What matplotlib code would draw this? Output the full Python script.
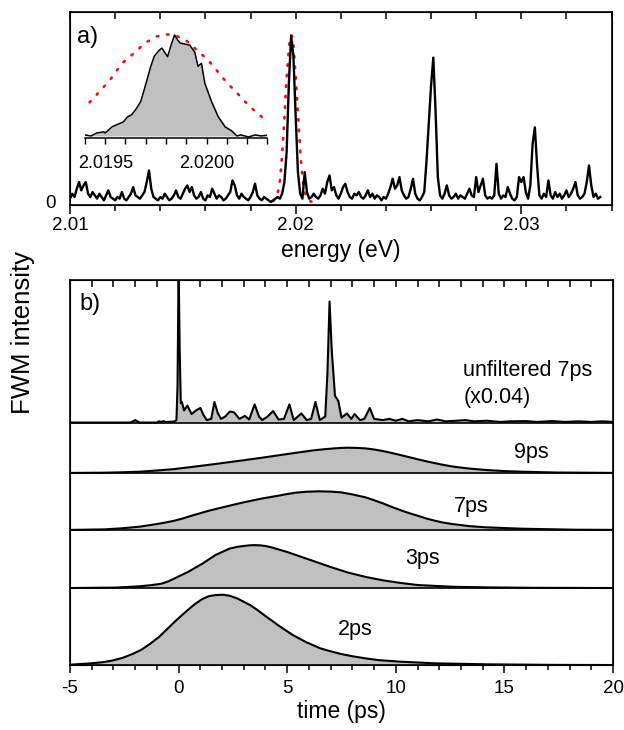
import numpy as np
import matplotlib
matplotlib.use('Agg')
import matplotlib.pyplot as plt
from matplotlib.ticker import MultipleLocator, FixedLocator, FormatStrFormatter

plt.rcParams['font.family'] = ['Liberation Sans', 'DejaVu Sans']
plt.rcParams['axes.unicode_minus'] = False

# ---- panel a: spectrum (energy grid every 0.1 meV, starting at 2.0100 eV)
e_start = 2.0100
e_step = 0.0001
spectrum = [
    0.02, 0.05, 0.03, 0.08, 0.12, 0.07, 0.10, 0.12, 0.05, 0.03,  # 2.010
    0.06, 0.04, 0.02, 0.05, 0.03, 0.01, 0.04, 0.07, 0.03, 0.02,  # 2.011
    0.01, 0.03, 0.02, 0.06, 0.02, 0.01, 0.03, 0.05, 0.09, 0.04,  # 2.012
    0.03, 0.02, 0.04, 0.06, 0.12, 0.19, 0.08, 0.03, 0.02, 0.01,  # 2.013
    0.03, 0.02, 0.05, 0.03, 0.01, 0.02, 0.04, 0.07, 0.03, 0.02,  # 2.014
    0.05, 0.08, 0.10, 0.06, 0.09, 0.04, 0.02, 0.03, 0.06, 0.02,  # 2.015
    0.01, 0.04, 0.03, 0.08, 0.05, 0.02, 0.04, 0.03, 0.01, 0.02,  # 2.016
    0.04, 0.06, 0.13, 0.10, 0.04, 0.02, 0.05, 0.03, 0.02, 0.01,  # 2.017
    0.03, 0.06, 0.11, 0.04, 0.02, 0.01, 0.03, 0.02, 0.01, 0.00,  # 2.018
    0.01, 0.02, 0.03, 0.02, 0.05, 0.12, 0.30, 0.72, 1.00, 0.88,  # 2.019
    0.52, 0.18, 0.05, 0.02, 0.18, 0.06, 0.02, 0.03, 0.05, 0.03,  # 2.020
    0.02, 0.04, 0.08, 0.05, 0.12, 0.16, 0.07, 0.09, 0.04, 0.02,  # 2.021
    0.05, 0.09, 0.11, 0.06, 0.03, 0.02, 0.05, 0.04, 0.06, 0.03,  # 2.022
    0.02, 0.04, 0.07, 0.03, 0.05, 0.02, 0.04, 0.03, 0.01, 0.03,  # 2.023
    0.02, 0.05, 0.09, 0.14, 0.08, 0.10, 0.15, 0.07, 0.04, 0.02,  # 2.024
    0.03, 0.08, 0.14, 0.05, 0.02, 0.01, 0.03, 0.06, 0.25, 0.48,  # 2.025
    0.70, 0.87, 0.55, 0.15, 0.04, 0.02, 0.05, 0.10, 0.04, 0.02,  # 2.026
    0.03, 0.05, 0.02, 0.04, 0.03, 0.02, 0.05, 0.08, 0.04, 0.03,  # 2.027
    0.15, 0.06, 0.10, 0.14, 0.04, 0.02, 0.03, 0.02, 0.04, 0.23,  # 2.028
    0.05, 0.02, 0.04, 0.03, 0.09, 0.05, 0.02, 0.01, 0.03, 0.15,  # 2.029
    0.12, 0.15, 0.06, 0.02, 0.10, 0.35, 0.45, 0.22, 0.04, 0.02,  # 2.030
    0.05, 0.03, 0.13, 0.04, 0.02, 0.06, 0.03, 0.05, 0.02, 0.04,  # 2.031
    0.07, 0.03, 0.05, 0.08, 0.12, 0.04, 0.02, 0.03, 0.05, 0.12,  # 2.032
    0.22, 0.10, 0.03, 0.05, 0.02, 0.03,                          # 2.033
]
energy = np.round(e_start + e_step * np.arange(len(spectrum)), 5)

# laser spectrum (red dots)
laser_e = [2.0190, 2.0191, 2.0192, 2.0193, 2.0194, 2.019442, 2.019478, 2.019517,
           2.01955, 2.019583, 2.019622, 2.019667, 2.019708, 2.01975, 2.019792,
           2.019838, 2.019883, 2.019922, 2.019958, 2.0200, 2.020042, 2.020075,
           2.020112, 2.020155, 2.020195, 2.020233, 2.020275, 2.020312, 2.0204,
           2.0205, 2.0206, 2.0207]
laser_i = [0.005, 0.018, 0.05, 0.125, 0.284, 0.373, 0.455, 0.538, 0.627, 0.72,
           0.785, 0.868, 0.934, 0.983, 1.007, 1.0, 0.967, 0.911, 0.835, 0.769,
           0.67, 0.587, 0.505, 0.416, 0.33, 0.257, 0.185, 0.132, 0.062, 0.022,
           0.007, 0.002]

# inset: zoom on the 2.0198 eV line
inset_e = [2.01940, 2.01943, 2.019458, 2.019492, 2.01950, 2.019533, 2.019567,
           2.01959, 2.019608, 2.01963, 2.01965, 2.019675, 2.019692, 2.019725,
           2.019742, 2.019767, 2.01978, 2.019808, 2.019825, 2.019842, 2.019858,
           2.01987, 2.019917, 2.019942, 2.019958, 2.019975, 2.019992, 2.020025,
           2.020058, 2.020092, 2.020125, 2.02015, 2.02017, 2.020208, 2.02024,
           2.02027, 2.020312]
inset_i = [0.01, 0.00, 0.03, 0.04, 0.03, 0.09, 0.12, 0.14, 0.185, 0.21, 0.26,
           0.34, 0.455, 0.69, 0.79, 0.85, 0.87, 0.785, 0.90, 1.0, 0.95, 0.92,
           0.90, 0.83, 0.69, 0.72, 0.52, 0.34, 0.19, 0.09, 0.05, 0.0, 0.01,
           -0.01, 0.01, 0.0, 0.01]

# ---- panel b: FWM transients
t_unf = [-5.0, -2.2, -2.0, -1.8, -1.0, -0.9, -0.8, -0.7, -0.6, -0.2, -0.1, -0.05,
         0.0, 0.05, 0.1, 0.15, 0.25, 0.4, 0.6, 0.8, 1.0, 1.15, 1.3, 1.5, 1.65,
         1.8, 1.95, 2.15, 2.35, 2.55, 2.8, 3.05, 3.25, 3.5, 3.7, 3.85, 4.1, 4.35,
         4.6, 4.85, 5.1, 5.3, 5.65, 5.9, 6.1, 6.3, 6.5, 6.75, 6.85, 6.95, 7.05,
         7.2, 7.35, 7.5, 7.75, 7.95, 8.1, 8.35, 8.55, 8.8, 9.0, 9.4, 9.7, 10.0,
         10.3, 10.6, 11.0, 11.5, 11.9, 12.3, 12.8, 13.2, 13.6, 14.2, 14.8, 15.3,
         16.0, 16.5, 17.2, 17.8, 18.4, 19.0, 19.5, 20.0]
i_unf = [0.0, 0.0, 0.02, 0.0, 0.0, 0.01, 0.005, 0.012, 0.004, 0.008, 0.02, 0.3,
         1.3, 0.6, 0.16, 0.17, 0.10, 0.14, 0.07, 0.10, 0.12, 0.06, 0.02, 0.03,
         0.17, 0.08, 0.03, 0.05, 0.09, 0.085, 0.03, 0.055, 0.025, 0.15, 0.05,
         0.02, 0.05, 0.095, 0.025, 0.03, 0.15, 0.02, 0.075, 0.02, 0.03, 0.17,
         0.02, 0.05, 0.4, 1.0, 0.6, 0.22, 0.18, 0.04, 0.075, 0.03, 0.07, 0.02,
         0.03, 0.12, 0.03, 0.02, 0.03, 0.015, 0.03, 0.01, 0.02, 0.01, 0.025,
         0.01, 0.015, 0.02, 0.01, 0.015, 0.005, 0.01, 0.012, 0.005, 0.012,
         0.005, 0.01, 0.005, 0.01, 0.005]

t_9 = [-5, -3.4, -2.6, -1.8, -1.0, -0.2, 0.6, 1.4, 2.2, 3.0, 3.8, 4.6, 5.4, 6.2,
       6.7, 7.16, 7.5, 7.8, 8.2, 8.6, 9.0, 9.4, 9.8, 10.2, 10.6, 11.0, 11.4, 11.8,
       12.2, 12.6, 13.0, 13.4, 14.2, 15.0, 15.8, 17.4, 19.8, 20]
i_9 = [0.004, 0.013, 0.03, 0.052, 0.10, 0.156, 0.24, 0.325, 0.415, 0.506, 0.60,
       0.70, 0.80, 0.896, 0.94, 0.974, 0.993, 1.0, 0.993, 0.974, 0.93, 0.87,
       0.795, 0.714, 0.63, 0.545, 0.465, 0.39, 0.32, 0.26, 0.215, 0.175, 0.117,
       0.078, 0.052, 0.02, 0.006, 0.006]

t_7 = [-5, -3.4, -2.6, -1.8, -1.0, -0.6, -0.2, 0.2, 0.6, 1.0, 1.4, 2.2, 3.0, 3.8,
       4.6, 5.0, 5.4, 5.9, 6.44, 7.0, 7.48, 8.0, 8.6, 9.0, 9.4, 9.8, 10.2, 10.6,
       11.0, 11.4, 11.8, 12.2, 12.6, 13.4, 14.2, 15.8, 18.2, 20]
i_7 = [0.003, 0.017, 0.045, 0.086, 0.155, 0.195, 0.24, 0.30, 0.37, 0.435, 0.50,
       0.61, 0.716, 0.81, 0.888, 0.93, 0.966, 0.99, 1.0, 0.993, 0.974, 0.92,
       0.845, 0.77, 0.69, 0.60, 0.517, 0.44, 0.37, 0.30, 0.24, 0.19, 0.155, 0.10,
       0.069, 0.034, 0.009, 0.004]

t_3 = [-5, -2.9, -1.8, -1.3, -0.8, -0.5, -0.2, 0.45, 1.1, 1.7, 2.35, 2.7, 3.0,
       3.25, 3.5, 3.75, 4.0, 4.3, 4.6, 5.0, 5.4, 6.2, 7.0, 7.8, 8.6, 9.4, 10.2,
       11.0, 12.6, 14.2, 16.4, 20]
i_3 = [0.0, 0.01, 0.04, 0.065, 0.10, 0.15, 0.22, 0.38, 0.57, 0.77, 0.92, 0.96,
       0.98, 0.995, 1.0, 0.995, 0.98, 0.945, 0.90, 0.84, 0.77, 0.63, 0.49, 0.36,
       0.26, 0.18, 0.12, 0.07, 0.03, 0.015, 0.005, 0.0]

t_2 = [-5, -4.04, -3.5, -3.08, -2.6, -2.12, -1.7, -1.32, -0.9, -0.52, -0.2, 0.12,
       0.45, 0.76, 1.1, 1.4, 1.7, 2.04, 2.35, 2.68, 3.0, 3.32, 3.64, 3.96, 4.3,
       4.6, 5.24, 5.88, 6.52, 7.0, 7.48, 8.0, 8.6, 9.2, 10.2, 11.8, 14.2, 17.4, 20]
i_2 = [0.005, 0.024, 0.04, 0.062, 0.10, 0.157, 0.22, 0.30, 0.40, 0.514, 0.61,
       0.70, 0.79, 0.87, 0.94, 0.98, 0.995, 1.0, 0.985, 0.95, 0.90, 0.848, 0.78,
       0.705, 0.63, 0.562, 0.43, 0.324, 0.238, 0.195, 0.157, 0.125, 0.095, 0.07,
       0.048, 0.024, 0.01, 0.002, 0.0]

traces = [(t_2, i_2), (t_3, i_3), (t_7, i_7), (t_9, i_9), (t_unf, i_unf)]
trace_labels = ['2ps', '3ps', '7ps', '9ps']

# layout of stacked traces (panel units)
baselines = [0, 77, 135, 192, 242.5]
gains = [70.3, 42.9, 38.7, 25.3, 121]
label_pos = [(8.15, 36), (11.25, 106.5), (13.45, 159), (16.25, 212.4)]

grey = '#c0c0c0'
red = '#e8101a'
dots = (0, (0.6, 3.4))
fig = plt.figure(figsize=(6.24, 7.30), dpi=100)

# ---------------- panel a
ax_a = fig.add_axes([0.1122, 0.7192, 0.8686, 0.2644])
ax_a.plot(laser_e, laser_i, color=red, lw=1.9, linestyle=dots,
          dash_capstyle='round')
ax_a.plot(energy, spectrum, color='black', lw=1.7)
ax_a.set_xlim(2.01, 2.03402)
ax_a.set_ylim(-0.018, 1.145)
ax_a.xaxis.set_major_locator(FixedLocator([2.01, 2.02, 2.03]))
ax_a.xaxis.set_minor_locator(MultipleLocator(0.002))
ax_a.xaxis.set_major_formatter(FormatStrFormatter('%.2f'))
ax_a.tick_params(axis='x', which='major', direction='out', length=6.5, width=1.1,
                 labelsize=13.5, pad=2)
ax_a.tick_params(axis='x', which='minor', direction='out', length=4, width=1.1)
ax_a.set_yticks([0])
ax_a.tick_params(axis='y', length=0, labelsize=13.5, pad=10)
ax_a.set_xlabel('energy (eV)', fontsize=16.5, labelpad=4)
ax_a.text(0.013, 0.87, 'a)', transform=ax_a.transAxes, fontsize=17,
          ha='left', va='center')
for s in ax_a.spines.values():
    s.set_linewidth(1.2)
top_a = ax_a.twiny()
top_a.set_xlim(ax_a.get_xlim())
top_a.xaxis.set_major_locator(MultipleLocator(0.002))
top_a.tick_params(axis='x', direction='in', length=5, width=1.1, labeltop=False)

# inset
ax_in = fig.add_axes([0.1362, 0.811, 0.2921, 0.148])
ax_in.fill_between(inset_e, 0, inset_i, color=grey, lw=0)
ax_in.plot(inset_e, inset_i, color='black', lw=1.1)
ax_in.plot(laser_e, laser_i, color=red, lw=1.9, linestyle=dots,
           dash_capstyle='round')
ax_in.set_xlim(2.0194, 2.0203)
ax_in.set_ylim(-0.02, 1.05)
ax_in.patch.set_alpha(0)
for side in ['top', 'left', 'right']:
    ax_in.spines[side].set_visible(False)
ax_in.spines['bottom'].set_linewidth(1.1)
ax_in.set_yticks([])
ax_in.xaxis.set_major_locator(FixedLocator([2.0195, 2.0200]))
ax_in.xaxis.set_minor_locator(MultipleLocator(0.0001))
ax_in.xaxis.set_major_formatter(FormatStrFormatter('%.4f'))
ax_in.tick_params(axis='x', which='both', direction='out', length=4.5, width=1.0,
                  labelsize=13, pad=8)

# ---------------- panel b
ax_b = fig.add_axes([0.1122, 0.089, 0.8702, 0.5274])
for (t, i), base, g in zip(traces, baselines, gains):
    y = base + g * np.asarray(i)
    ax_b.fill_between(t, base, y, color=grey, lw=0)
    ax_b.plot(t, y, color='black', lw=1.5, solid_joinstyle='round')
    if base > 0:
        ax_b.axhline(base, color='black', lw=1.2)
for lab, (tx, ty) in zip(trace_labels, label_pos):
    ax_b.text(tx, ty, lab, fontsize=15.5, ha='center', va='center')
ax_b.text(13.1, 295, 'unfiltered 7ps', fontsize=15.5, ha='left', va='center')
ax_b.text(13.1, 268, '(x0.04)', fontsize=15.5, ha='left', va='center')
ax_b.text(0.018, 0.938, 'b)', transform=ax_b.transAxes, fontsize=17,
          ha='left', va='center')
ax_b.set_xlim(-5, 20)
ax_b.set_ylim(0, 385)
ax_b.set_yticks([])
ax_b.xaxis.set_major_locator(MultipleLocator(5))
ax_b.xaxis.set_minor_locator(MultipleLocator(1))
ax_b.tick_params(axis='x', which='major', direction='out', length=6, width=1.1,
                 labelsize=13.5, pad=5)
ax_b.tick_params(axis='x', which='minor', direction='out', length=3.8, width=1.1)
ax_b.set_xlabel('time (ps)', fontsize=16.5, labelpad=2)
for s in ax_b.spines.values():
    s.set_linewidth(1.2)
top_b = ax_b.twiny()
top_b.set_xlim(ax_b.get_xlim())
top_b.xaxis.set_major_locator(MultipleLocator(1))
top_b.tick_params(axis='x', direction='in', length=5, width=1.1, labeltop=False)

fig.text(0.037, 0.545, 'FWM intensity', rotation=90, fontsize=18.5,
         ha='center', va='center')

fig.savefig('out.png', dpi=100)
